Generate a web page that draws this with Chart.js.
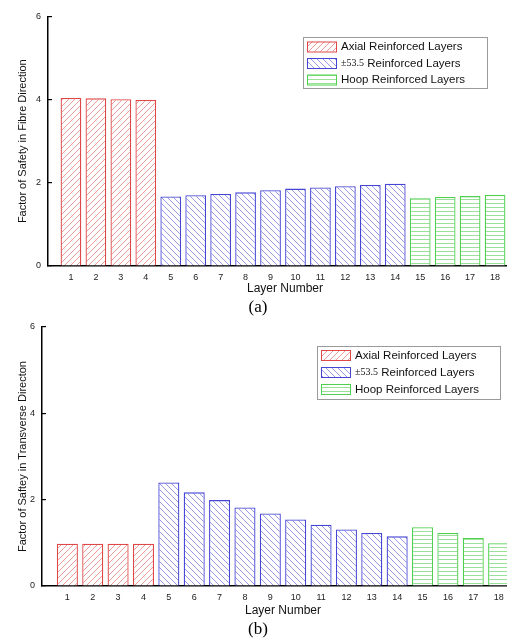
<!DOCTYPE html>
<html>
<head>
<meta charset="utf-8">
<script src="https://cdn.jsdelivr.net/npm/chart.js@4"></script>
<style>
  body { margin: 0; background: #fff; width: 507px; height: 642px; overflow: hidden; position: relative; }
  canvas { position: absolute; left: 0; }
  .cap { position: absolute; left: 0; width: 516px; text-align: center; font-family: "Liberation Serif", "Times New Roman", serif; font-size: 17px; color: #000; }
</style>
</head>
<body>
<canvas id="fibreChart" width="540" height="300" style="top:0"></canvas>
<canvas id="transverseChart" width="540" height="342" style="top:300px"></canvas>
<div class="cap" style="top:297px">(a)</div>
<div class="cap" style="top:619px">(b)</div>
<script>
const layers = [1, 2, 3, 4, 5, 6, 7, 8, 9, 10, 11, 12, 13, 14, 15, 16, 17, 18];
const layerGroup = [0, 0, 0, 0, 1, 1, 1, 1, 1, 1, 1, 1, 1, 1, 2, 2, 2, 2];
const groupNames = ['Axial Reinforced Layers', '±53.5 Reinforced Layers', 'Hoop Reinforced Layers'];
const fibreValues = [4.04, 4.03, 4.01, 3.99, 1.67, 1.70, 1.73, 1.77, 1.82, 1.86, 1.89, 1.92, 1.95, 1.98, 1.63, 1.66, 1.68, 1.71];
const transverseValues = [0.98, 0.98, 0.98, 0.98, 2.40, 2.17, 1.99, 1.82, 1.68, 1.54, 1.42, 1.31, 1.23, 1.15, 1.36, 1.23, 1.11, 0.99];
const yTicks = [0, 2, 4, 6];

const borderColors = ['#e04848', '#4646d6', '#4fd04f'];
const hatchColors = ['#eb9a9a', '#9a9ae6', '#9ae09a'];
const hatchKinds = ['/', '\\', '-'];

function makeHatch(color, kind) {
    const s = kind === '-' ? 4 : 6;
    const c = document.createElement('canvas');
    c.width = s;
    c.height = s;
    const g = c.getContext('2d');
    g.fillStyle = '#fff';
    g.fillRect(0, 0, s, s);
    g.strokeStyle = color;
    g.lineWidth = 1;
    g.beginPath();
    if (kind === '/') {
        g.moveTo(-1, s + 1); g.lineTo(s + 1, -1);
        g.moveTo(-1, 1); g.lineTo(1, -1);
        g.moveTo(s - 1, s + 1); g.lineTo(s + 1, s - 1);
    } else if (kind === '\\') {
        g.moveTo(-1, -1); g.lineTo(s + 1, s + 1);
        g.moveTo(s - 1, -1); g.lineTo(s + 1, 1);
        g.moveTo(-1, s - 1); g.lineTo(1, s + 1);
    } else {
        g.moveTo(0, s - 0.5); g.lineTo(s, s - 0.5);
    }
    g.stroke();
    return g.createPattern(c, 'repeat');
}

const patterns = hatchColors.map((col, i) => makeHatch(col, hatchKinds[i]));

function buildDatasets(values) {
    return groupNames.map((name, gi) => ({
        label: name,
        data: layers
            .map((layer, i) => ({ x: layer, y: values[i], g: layerGroup[i] }))
            .filter((p) => p.g === gi),
        backgroundColor: patterns[gi],
        borderColor: borderColors[gi],
        borderWidth: 1.3,
        grouped: false,
        barPercentage: 0.83,
        categoryPercentage: 1,
    }));
}

const boxLegend = {
    id: 'boxLegend',
    afterDraw(chart, args, opts) {
        const ctx = chart.ctx;
        ctx.save();
        ctx.fillStyle = '#fff';
        ctx.fillRect(opts.x, opts.y, opts.w, opts.h);
        ctx.strokeStyle = '#9a9a9a';
        ctx.lineWidth = 1;
        ctx.strokeRect(opts.x + 0.5, opts.y + 0.5, opts.w, opts.h);
        groupNames.forEach((name, i) => {
            const cy = opts.row0 + i * opts.gap;
            const sx = opts.x + 4;
            ctx.fillStyle = patterns[i];
            ctx.fillRect(sx, cy - 5, 29, 10);
            ctx.strokeStyle = borderColors[i];
            ctx.strokeRect(sx + 0.5, cy - 4.5, 29, 10);
            ctx.fillStyle = '#111';
            ctx.textBaseline = 'middle';
            let tx = sx + 34;
            let text = name;
            if (name.startsWith('±')) {
                const head = name.split(' ')[0];
                ctx.font = '10px "Liberation Serif", serif';
                ctx.fillText(head, tx, cy + 0.5);
                tx += ctx.measureText(head).width;
                text = name.slice(head.length);
            }
            ctx.font = '11.5px "Liberation Sans", Arial, sans-serif';
            ctx.fillText(text, tx, cy + 0.5);
        });
        ctx.restore();
    },
};

function makeChart(id, values, yTitle, cfg) {
    return new Chart(document.getElementById(id), {
        type: 'bar',
        data: { datasets: buildDatasets(values) },
        options: {
            responsive: false,
            animation: false,
            events: [],
            layout: { padding: { top: cfg.top, right: cfg.right, left: 0, bottom: 0 } },
            plugins: {
                legend: { display: false },
                tooltip: { enabled: false },
                boxLegend: cfg.legend,
            },
            scales: {
                x: {
                    type: 'linear',
                    offset: false,
                    min: cfg.xMin,
                    max: cfg.xMin + 19,
                    afterFit: (s) => { s.height = cfg.xHeight; },
                    afterBuildTicks: (s) => { s.ticks = layers.map((v) => ({ value: v })); },
                    grid: { display: false, drawTicks: false },
                    border: { display: true, color: '#000', width: 1.5 },
                    ticks: {
                        autoSkip: false,
                        maxRotation: 0,
                        padding: 6,
                        color: '#222',
                        font: { family: '"Liberation Sans", Arial, sans-serif', size: 9 },
                    },
                    title: {
                        display: true,
                        text: 'Layer Number',
                        color: '#111',
                        padding: { top: 0, bottom: cfg.xTitlePad },
                        font: { family: '"Liberation Sans", Arial, sans-serif', size: 12 },
                    },
                },
                y: {
                    min: 0,
                    max: 6,
                    afterFit: (s) => { s.width = cfg.yWidth; },
                    afterBuildTicks: (s) => { s.ticks = yTicks.map((v) => ({ value: v })); },
                    grid: { display: true, drawOnChartArea: false, drawTicks: true, tickLength: -4, color: '#000', lineWidth: 1.2 },
                    border: { display: true, color: '#000', width: 1.5 },
                    ticks: {
                        padding: 11,
                        color: '#222',
                        font: { family: '"Liberation Sans", Arial, sans-serif', size: 9 },
                    },
                    title: {
                        display: true,
                        text: yTitle,
                        color: '#111',
                        padding: { top: 16, bottom: 16 },
                        font: { family: '"Liberation Sans", Arial, sans-serif', size: 11 },
                    },
                },
            },
        },
        plugins: [boxLegend],
    });
}

makeChart('fibreChart', fibreValues, 'Factor of Safety in Fibre Direction', {
    top: 16, right: 18, xHeight: 34, yWidth: 48, xTitlePad: 4, xMin: 0.08,
    legend: { x: 303, y: 37, w: 184, h: 51, row0: 46.5, gap: 16.5 },
});

makeChart('transverseChart', transverseValues, 'Factor of Saftey in Transverse Directon', {
    top: 27, right: 16, xHeight: 56, yWidth: 42, xTitlePad: 24, xMin: 0,
    legend: { x: 317, y: 46, w: 183, h: 53, row0: 55, gap: 17 },
});
</script>
</body>
</html>
